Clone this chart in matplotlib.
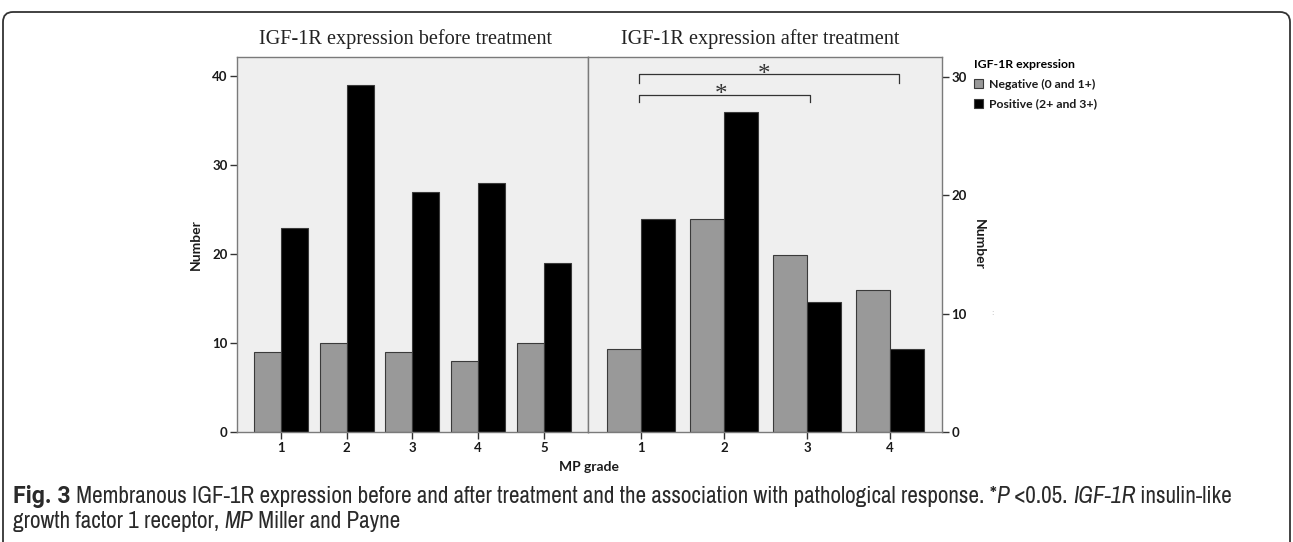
import matplotlib
matplotlib.use("Agg")
import matplotlib.pyplot as plt
import numpy as np
from matplotlib.patches import FancyBboxPatch
from matplotlib.transforms import IdentityTransform
from matplotlib import font_manager

# ---------------- data ----------------
grades_before = [1, 2, 3, 4, 5]
neg_before = [9, 10, 9, 8, 10]
pos_before = [23, 39, 27, 28, 19]

grades_after = [1, 2, 3, 4]
neg_after = [7, 18, 15, 12]
pos_after = [18, 27, 11, 7]

left_yticks = [0, 10, 20, 30, 40]
right_yticks = [0, 10, 20, 30]

title_before = "IGF-1R expression before treatment"
title_after = "IGF-1R expression after treatment"
legend_title = "IGF-1R expression"
legend_labels = ["Negative (0 and 1+)", "Positive (2+ and 3+)"]

# ---------------- style ----------------
W, H = 1293, 542
DPI = 100
GRAY = "#999999"
BLACK = "#000000"
EDGE = "#3a3a3a"
BG = "#efefef"
SPINE = "#7a7a7a"
SANS = "Lato"
SERIF = "Liberation Serif"

names = sorted({f.name for f in font_manager.fontManager.ttflist})
CAP = "Roboto"
for n in names:
    if "Narrow" in n or "Condensed" in n:
        CAP = n
        break
CAP_BOLD = "Roboto"

fig = plt.figure(figsize=(W / DPI, H / DPI), dpi=DPI)

def fx(px):
    return px / W

def fy(py):
    return 1 - py / H

bw = 0.41
top, bottom = 56.7, 432.3
axL = fig.add_axes([fx(237.3), fy(bottom), fx(588.3 - 237.3), (bottom - top) / H])
axR = fig.add_axes([fx(588.3), fy(bottom), fx(941.7 - 588.3), (bottom - top) / H])

for ax in (axL, axR):
    ax.set_facecolor(BG)
    for s in ax.spines.values():
        s.set_color(SPINE)
        s.set_linewidth(1.0)
    ax.tick_params(axis="both", direction="out", length=5, width=1.0, color="#333333",
                   labelsize=9.5, pad=2)

gb = np.array(grades_before, dtype=float)
bneg = axL.bar(gb - bw / 2, neg_before, width=bw, color=GRAY, edgecolor=EDGE, linewidth=0.8)
bpos = axL.bar(gb + bw / 2, pos_before, width=bw, color=BLACK, edgecolor=EDGE, linewidth=0.8)
axL.set_xlim(0.335, 5.677)
axL.set_ylim(0, 42.2)
axL.set_xticks(grades_before)
axL.set_yticks(left_yticks)

ga = np.array(grades_after, dtype=float)
axR.bar(ga - bw / 2, neg_after, width=bw, color=GRAY, edgecolor=EDGE, linewidth=0.8)
axR.bar(ga + bw / 2, pos_after, width=bw, color=BLACK, edgecolor=EDGE, linewidth=0.8)
axR.set_xlim(0.365, 4.623)
axR.set_ylim(0, 31.7)
axR.set_xticks(grades_after)
axR.set_yticks(right_yticks)
axR.yaxis.tick_right()
axR.yaxis.set_label_position("right")

for ax in (axL, axR):
    for lab in ax.get_xticklabels() + ax.get_yticklabels():
        lab.set_fontfamily(SANS)
        lab.set_fontweight("bold")
        lab.set_color("#1a1a1a")

axL.set_ylabel("Number", fontfamily=SANS, fontweight="bold", fontsize=10, labelpad=7,
               color="#1a1a1a")
axR.set_ylabel("Number", fontfamily=SANS, fontweight="bold", fontsize=10, rotation=270,
               labelpad=13, color="#1a1a1a")

# significance brackets
def bracket(ax, x0, x1, y, drop):
    ax.plot([x0, x0, x1, x1], [y - drop, y, y, y - drop], color="#333333", lw=0.9,
            clip_on=False)

bracket(axR, 0.976, 4.108, 30.2, 0.7)
bracket(axR, 0.976, 3.04, 28.45, 0.6)
axR.text(2.48, 29.65, "*", fontfamily=SERIF, fontsize=18, ha="center", va="baseline",
         color="#333333")
axR.text(1.96, 27.95, "*", fontfamily=SERIF, fontsize=18, ha="center", va="baseline",
         color="#333333")

# titles
fig.text(fx(406), fy(44), title_before, fontfamily=SERIF, fontsize=14.6, ha="center",
         va="baseline", color="#222222")
fig.text(fx(760), fy(44), title_after, fontfamily=SERIF, fontsize=14.6, ha="center",
         va="baseline", color="#222222")

# x label
fig.text(fx(589), fy(467), "MP grade", fontfamily=SANS, fontweight="bold", fontsize=10,
         ha="center", va="center", color="#1a1a1a")

# legend
leg = fig.legend([bneg, bpos], legend_labels, loc="upper left",
                 bbox_to_anchor=(fx(969), fy(54)), frameon=False,
                 title=legend_title, alignment="left",
                 prop={"family": SANS, "weight": "bold", "size": 8.8},
                 title_fontproperties={"family": SANS, "weight": "bold", "size": 8.8},
                 handlelength=0.75, handleheight=0.75, handletextpad=0.5,
                 labelspacing=0.72, borderaxespad=0)
for t in leg.get_texts():
    t.set_color("#1a1a1a")

# small artifact mark
fig.text(fx(992), fy(313), ":", fontsize=5, color="#b0b0b0", ha="center", va="center")

# caption with mixed styles
renderer = fig.canvas.get_renderer()
line1 = [("Fig. 3", "bold", "normal"),
         (" Membranous IGF-1R expression before and after treatment and the association with pathological response. *", "normal", "normal"),
         ("P", "normal", "italic"),
         (" <0.05. ", "normal", "normal"),
         ("IGF-1R", "normal", "italic"),
         (" insulin-like", "normal", "normal")]
line2 = [("growth factor 1 receptor, ", "normal", "normal"),
         ("MP", "normal", "italic"),
         (" Miller and Payne", "normal", "normal")]

def fam(w):
    return CAP_BOLD if w == "bold" else CAP

def measure(pieces, size):
    total = 0
    for s, w, st in pieces:
        t = fig.text(0, 0, s, fontfamily=fam(w), fontsize=size, fontweight=w, fontstyle=st)
        total += t.get_window_extent(renderer).width
        t.remove()
    return total

base = 12.0
cs = base * (1232 - 13) / measure(line1, base)

def draw_line(pieces, x0, ybase):
    x = x0
    for s, w, st in pieces:
        t = fig.text(fx(x), fy(ybase), s, fontfamily=fam(w), fontsize=cs, fontweight=w,
                     fontstyle=st, va="baseline", ha="left", color="#2a2a2a")
        x += t.get_window_extent(renderer).width

draw_line(line1, 13, 503)
draw_line(line2, 13, 528)

# rounded frame
frame = FancyBboxPatch((3, -30), 1287, (H - 12) + 30,
                       boxstyle="round,pad=0,rounding_size=10",
                       transform=IdentityTransform(), fill=False,
                       edgecolor="#333333", linewidth=1.3)
fig.add_artist(frame)

fig.savefig("out.png", dpi=DPI)
